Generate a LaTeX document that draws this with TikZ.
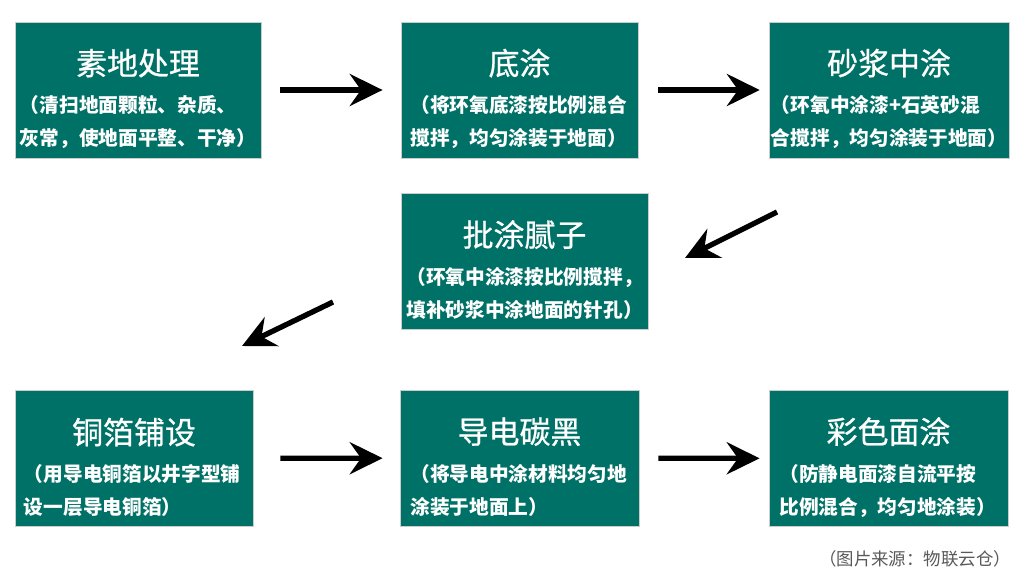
\documentclass[tikz,border=0pt]{standalone}
\usepackage{fontspec}
\usepackage{tikz}
\usetikzlibrary{arrows.meta}
\setmainfont{Noto Sans CJK SC}
\newfontfamily\titlefont{Noto Sans CJK SC}[FakeBold=0.8]

\definecolor{stepgreen}{RGB}{0,113,103}

\newcommand{\steptext}[3]{%
    {\centering\titlefont\fontsize{22}{26}\selectfont\rule{0pt}{31pt}#1\par}%
    \vspace{3.3pt}%
    {\raggedright\bfseries\fontsize{14}{23.5}\selectfont #2\par #3\par}}

\begin{document}
\begin{tikzpicture}[x=0.025cm, y=-0.025cm,
    stepbox/.style={fill=stepgreen, draw=gray!40, line width=0.4pt, text=white,
        text width=5.9cm, inner xsep=0.05cm, inner ysep=0pt, minimum height=3.4cm},
    flow/.style={line width=3.8pt, -{Stealth[length=0.82cm, width=0.8cm, inset=0.28cm]}}]
    \useasboundingbox (0,0) rectangle (1024,577);

    \coordinate (A) at (777, 212);
    \coordinate (B) at (685, 258);
    \coordinate (C) at (333, 302);
    \coordinate (D) at (242, 346);

    \node[stepbox, minimum width=6.15cm] (clean) at (138, 90)
        {\steptext{素地处理}{（清扫地面颗粒、杂质、}{灰常，使地面平整、干净）}};
    \node[stepbox, minimum width=5.93cm, text width=5.45cm] (base) at (519.5, 90)
        {\steptext{底涂}{（将环氧底漆按比例混合}{搅拌，均匀涂装于地面）}};
    \node[stepbox, minimum width=6cm] (mortar) at (889, 90)
        {\steptext{砂浆中涂}{（环氧中涂漆+石英砂混}{合搅拌，均匀涂装于地面）}};
    \node[stepbox, minimum width=6.18cm] (putty) at (524.5, 261)
        {\steptext{批涂腻子}{（环氧中涂漆按比例搅拌，}{填补砂浆中涂地面的针孔）}};
    \node[stepbox, minimum width=5.95cm, text width=5.5cm] (foil) at (134, 458.5)
        {\steptext{铜箔铺设}{（用导电铜箔以井字型铺}{设一层导电铜箔）}};
    \node[stepbox, minimum width=5.98cm, text width=5.45cm] (carbon) at (519.5, 458)
        {\steptext{导电碳黑}{（将导电中涂材料均匀地}{涂装于地面上）}};
    \node[stepbox, minimum width=5.98cm, text width=5.45cm] (topcoat) at (888.5, 458.5)
        {\steptext{彩色面涂}{（防静电面漆自流平按}{比例混合，均匀地涂装）}};

    \draw[flow, shorten <=0.475cm, shorten >=0.45cm] (clean) -- (base);
    \draw[flow, shorten <=0.5cm, shorten >=0.225cm] (base) -- (mortar);
    \draw[flow] (A) -- (B);
    \draw[flow] (C) -- (D);
    \draw[flow, shorten <=0.675cm, shorten >=0.425cm] (foil) -- (carbon);
    \draw[flow, shorten <=0.475cm, shorten >=0.225cm] (carbon) -- (topcoat);

    \node[anchor=east, text=black!65, font=\fontsize{12.4}{14}\selectfont] (source)
        at (1016, 559) {（图片来源：物联云仓）};
\end{tikzpicture}
\end{document}
